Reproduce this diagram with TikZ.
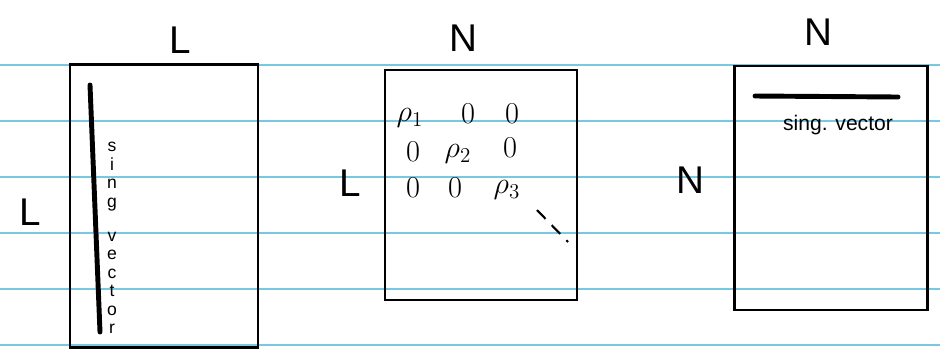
\documentclass[tikz,border=0pt]{standalone}
\usepackage{fontspec}
\setmainfont{Liberation Sans}
\usetikzlibrary{positioning}
\definecolor{ruled}{RGB}{120,200,225}

\begin{document}
\begin{tikzpicture}[x=0.02cm,y=-0.02cm,
  matbox/.style={draw,line width=1.2pt,inner sep=0pt},
  dimlbl/.style={font=\fontsize{22}{24}\selectfont},
  entry/.style={font=\LARGE},
  thickbar/.style={line width=2.8pt,line cap=round}]
\useasboundingbox (0,0) rectangle (940,353);
% ruled paper
\foreach \y in {65,121,177,233,289,345}
  \draw [ruled,line width=0.8pt] (0,\y) -- (940,\y);

% left matrix, L x L
\node [matbox,minimum width=3.76cm,minimum height=5.66cm] (uleft) at (164,206) {};
\node [dimlbl] (uleftTop) at (180,40) {L};
\node [dimlbl] (uleftSide) at (30,212) {L};
\coordinate (ubarTop) at (90,85);
\coordinate (ubarBot) at (100,332);
\draw [thickbar] (ubarTop) -- (ubarBot);
\node [align=center,font=\fontsize{10}{10.5}\selectfont] (ulbl) at (112,238)
  {s\\i\\n\\g\\[9pt]v\\e\\c\\t\\o\\r};

% middle matrix, L x N
\node [matbox,minimum width=3.84cm,minimum height=4.6cm] (smid) at (481,185) {};
\node [dimlbl] (smidTop) at (463,38) {N};
\node [dimlbl] (smidSide) at (350,183) {L};
\node [entry] (e11) at (410,118) {$\rho_1$};
\node [entry] (e12) at (468,114) {$0$};
\node [entry] (e13) at (512,114) {$0$};
\node [entry] (e21) at (413,152) {$0$};
\node [entry] (e22) at (458,154) {$\rho_2$};
\node [entry] (e23) at (510,148) {$0$};
\node [entry] (e31) at (413,188) {$0$};
\node [entry] (e32) at (455,188) {$0$};
\node [entry] (e33) at (507,190) {$\rho_3$};
\coordinate (dotsA) at (537,210);
\coordinate (dotsB) at (568,242);
\draw [line width=1.2pt,dash pattern=on 7pt off 5pt] (dotsA) -- (dotsB);

% right matrix, N x N
\node [matbox,minimum width=3.86cm,minimum height=4.88cm] (vright) at (831,188) {};
\node [dimlbl] (vrightTop) at (818,32) {N};
\node [dimlbl] (vrightSide) at (690,180) {N};
\coordinate (vbarL) at (755,96);
\coordinate (vbarR) at (898,97);
\draw [thickbar] (vbarL) -- (vbarR);
\node [font=\large] (vlbl) at (838,125) {sing. vector};
\end{tikzpicture}
\end{document}
